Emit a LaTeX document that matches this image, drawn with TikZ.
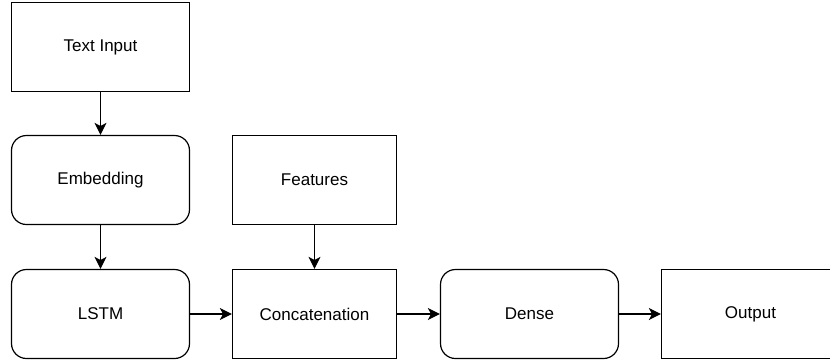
\documentclass[tikz,border=0pt]{standalone}
\usepackage{fontspec}
\setmainfont{Liberation Sans}
\usetikzlibrary{arrows.meta}

\begin{document}
\begin{tikzpicture}[x=1pt,y=-1pt,
  layer/.style={draw, line width=1.2pt, minimum width=178pt, minimum height=89pt,
    inner sep=0pt, font=\fontsize{17}{20}\selectfont},
  soft/.style={layer, rounded corners=15pt},
  flow/.style={line width=1.2pt, -{Stealth[length=12pt,width=12pt,inset=3pt]}}]
  \useasboundingbox (0,0) rectangle (830,360);

  \node[layer] (textin) at (100.5,47) {Text Input};
  \node[soft] (embed) at (100.5,180) {Embedding};
  \node[soft] (lstm) at (100.5,314) {LSTM};

  \node[layer, minimum width=164pt] (feat) at (314.5,180) {Features};
  \node[layer, minimum width=164pt] (concat) at (314.5,314) {Concatenation};

  \node[soft] (dense) at (529.5,314) {Dense};
  \node[layer] (out) at (750.5,314) {Output};

  \draw[flow] (textin) -- (embed);
  \draw[flow] (embed) -- (lstm);
  \draw[flow] (feat) -- (concat);
  \draw[flow] (lstm) -- (concat);
  \draw[flow] (concat) -- (dense);
  \draw[flow] (dense) -- (out);
\end{tikzpicture}
\end{document}
